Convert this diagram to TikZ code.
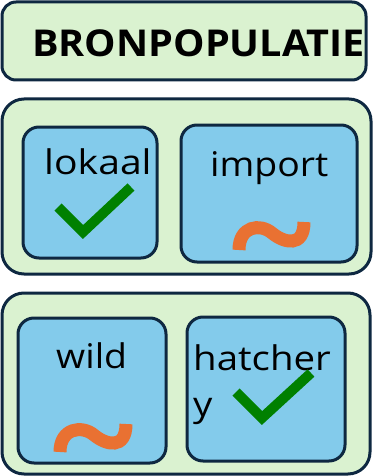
\documentclass[tikz,border=0pt]{standalone}
\usepackage{fontspec}
\setmainfont{Open Sans}
\definecolor{edge}{HTML}{0E2841}
\definecolor{outerfill}{HTML}{DAF2D0}
\definecolor{innerfill}{HTML}{83CBEB}
\definecolor{okgreen}{HTML}{008000}
\definecolor{tildeor}{HTML}{E97132}
\begin{document}
\begin{tikzpicture}[x=1pt,y=-1pt,
  outerbox/.style={draw=edge,fill=outerfill,line width=3pt,rounded corners=22pt},
  innerbox/.style={draw=edge,fill=innerfill,line width=3pt,rounded corners=16pt},
  topbox/.style={draw=edge,fill=outerfill,line width=3pt,rounded corners=14pt},
  lbl/.style={inner sep=0pt,anchor=base west,font=\fontsize{34}{40}\selectfont},
  tick/.style={draw=okgreen,line width=10pt,line cap=butt,line join=miter},
  wave/.style={draw=tildeor,line width=13pt,line cap=butt}]
\useasboundingbox (0,0) rectangle (373,476);
% title
\draw[topbox] (2,2) rectangle (366,80);
\begin{scope}
\clip[rounded corners=12pt] (3.5,3.5) rectangle (364.5,78.5);
\node[inner sep=0pt,anchor=base west,xscale=1.07,font=\fontsize{37}{44}\selectfont\bfseries] (title) at (32,57) {BRONPOPULATIE};
\end{scope}
% group 1
\draw[outerbox] (2,99) rectangle (371,274);
\draw[innerbox] (23,127) rectangle (157,258);
\draw[innerbox] (181,125) rectangle (357,262);
\node[lbl,xscale=1.15] (lokaal) at (44,174) {lokaal};
\node[lbl,xscale=1.1] (import) at (210,176) {import};
\draw[tick] (58,207) -- (83,232) -- (131,187);
\draw[wave] (239,250) .. controls (239,226) and (260,223) .. (272,233) .. controls (284,243) and (304,248) .. (304,222);
% group 2
\draw[outerbox] (2,293) rectangle (370,474);
\draw[innerbox] (18,318) rectangle (166,463);
\draw[innerbox] (187,317) rectangle (345,461);
\node[lbl,xscale=1.1] (wild) at (56,368) {wild};
\node[lbl,xscale=1.13] (hatch) at (193,370) {hatcher};
\node[lbl,xscale=1.13] (hatchy) at (193,416) {y};
\draw[tick] (236,392) -- (262,418) -- (311,373);
\draw[wave] (60,452) .. controls (60,428) and (82,425) .. (94,435) .. controls (106,445) and (126,450) .. (126,424);
\end{tikzpicture}
\end{document}
